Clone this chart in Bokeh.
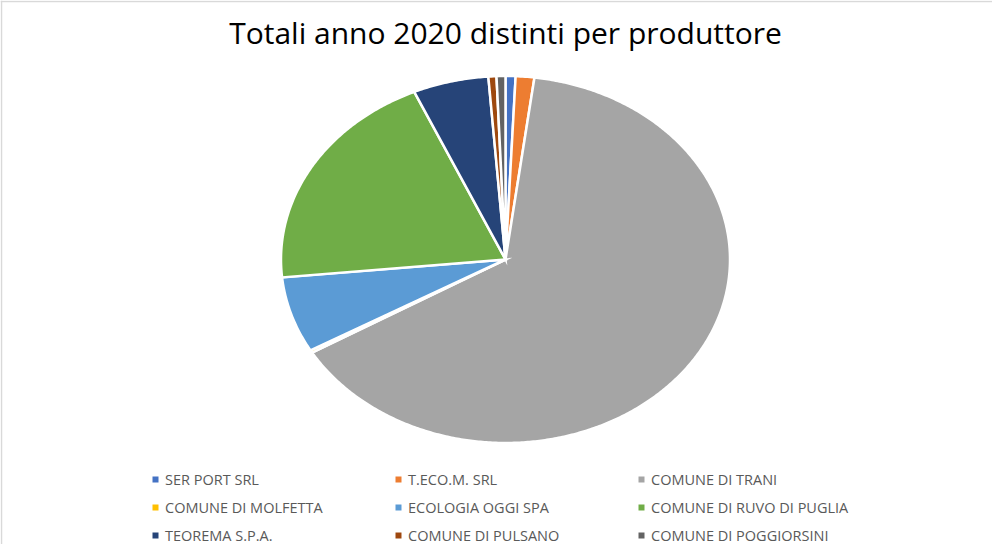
import numpy as np
from bokeh.plotting import figure
from bokeh.models import Range1d, ColumnDataSource, Span
from bokeh.core.properties import value
from bokeh.embed import file_html
from bokeh.resources import INLINE

# ---- data ----
producers = ["SER PORT SRL", "T.ECO.M. SRL", "COMUNE DI TRANI",
             "COMUNE DI MOLFETTA", "ECOLOGIA OGGI SPA", "COMUNE DI RUVO DI PUGLIA",
             "TEOREMA S.P.A.", "COMUNE DI PULSANO", "COMUNE DI POGGIORSINI"]
shares = [0.72, 1.34, 64.47, 0.22, 6.69, 19.89, 5.44, 0.58, 0.64]
colors = ["#4472C4", "#ED7D31", "#A5A5A5", "#FFC000", "#5B9BD5",
          "#70AD47", "#264478", "#9E480E", "#636363"]
title_text = "Totali anno 2020 distinti per produttore"

# ---- layout ----
W, H = 992, 544
OFF = 8                             # page margin
cx, cy = 513 - OFF, 267 - OFF       # pie centre in figure pixels
rx, ry = 224.5, 183.5               # elliptical radii (pixels)

def py(Y):                          # page pixel row -> data y
    return cy - (Y - OFF)

def px(X):                          # page pixel column -> data x
    return (X - OFF) - cx

p = figure(width=W, height=H, output_backend="svg", toolbar_location=None,
           x_range=Range1d(-cx, W - cx), y_range=Range1d(-(H - cy), cy),
           min_border=0)
p.axis.visible = False
p.grid.visible = False
p.outline_line_color = None
p.background_fill_color = "white"
p.border_fill_color = "white"

# frame border (light gray, top & left)
p.add_layout(Span(location=py(9), dimension="width", line_color="#d9d9d9", line_width=1.5))
p.add_layout(Span(location=px(9), dimension="height", line_color="#d9d9d9", line_width=1.5))

# ---- pie (elliptical) ----
vals = np.array(shares, dtype=float)
ends = np.cumsum(vals) / vals.sum() * 2 * np.pi
starts = np.concatenate([[0.0], ends[:-1]])
xs, ys = [], []
for a0, a1 in zip(starts, ends):
    n = max(4, int((a1 - a0) / (2 * np.pi) * 720))
    t = np.linspace(a0, a1, n)
    xs.append(np.concatenate([[0.0], rx * np.sin(t)]))
    ys.append(np.concatenate([[0.0], ry * np.cos(t)]))
src = ColumnDataSource(dict(xs=xs, ys=ys, color=colors, name=producers))
p.patches("xs", "ys", source=src, fill_color="color", line_color="white",
          line_width=2.5, line_join="miter")

# ---- title ----
p.text(x=[0], y=[py(40)], text=[title_text], text_font=value("Open Sans"),
       text_font_size="30px", text_color="black", text_align="center",
       text_baseline="middle")

# ---- legend (3 columns x 3 rows) ----
col_x = [px(163), px(406), px(649)]
row_y = [487, 515, 543]
lx = [col_x[i % 3] for i in range(len(producers))]
ly = [py(row_y[i // 3]) for i in range(len(producers))]
lsrc = ColumnDataSource(dict(x=lx, y=ly, tx=[v + 9.5 for v in lx],
                             color=colors, name=producers))
p.scatter("x", "y", source=lsrc, marker="square", size=6, fill_color="color", line_color=None)
p.text("tx", "y", text="name", source=lsrc, text_font=value("Open Sans"), text_font_size="14.5px",
       text_color="#595959", text_baseline="middle", text_align="left")

open("out.html", "w").write(file_html(p, INLINE))
